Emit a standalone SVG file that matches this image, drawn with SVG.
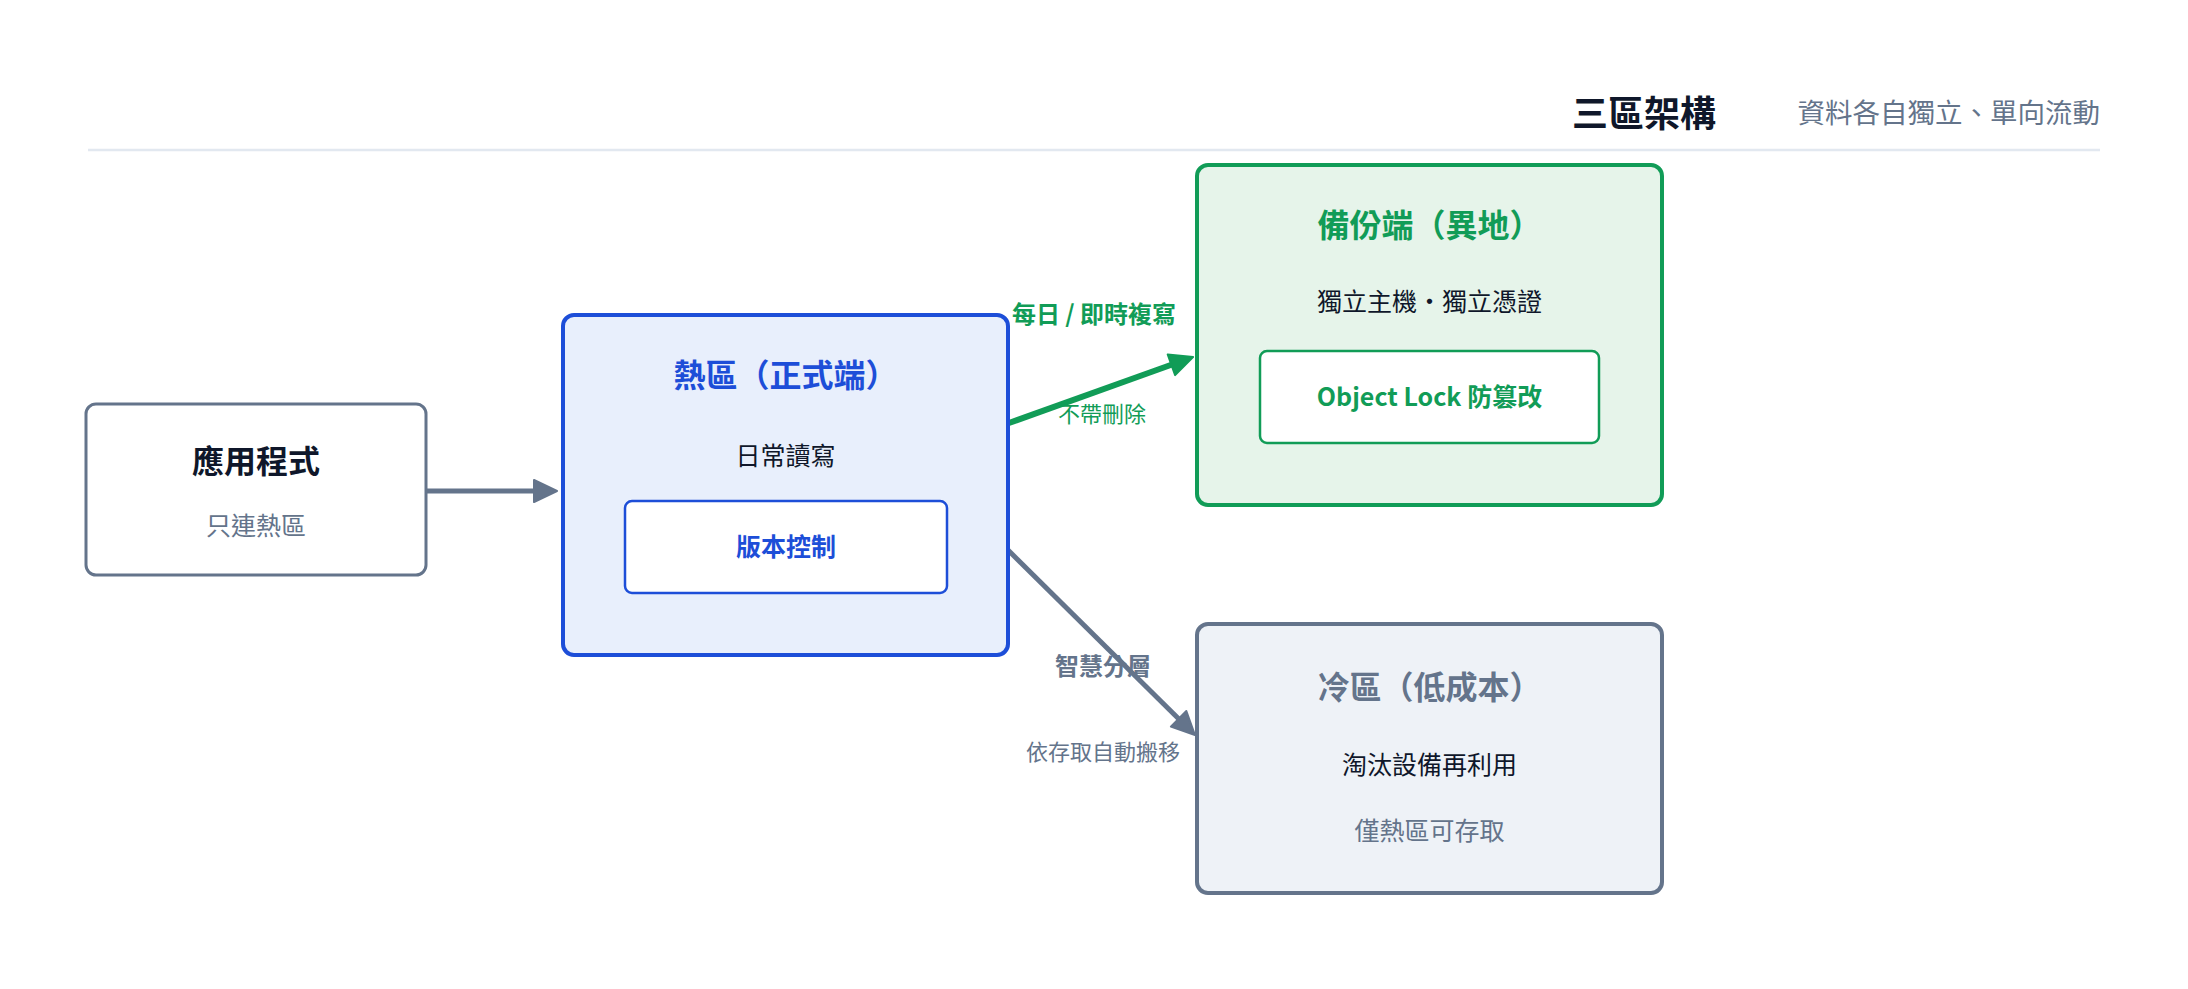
<svg xmlns="http://www.w3.org/2000/svg" width="2188" height="989" viewBox="0 0 2188 989">
<defs>
<style>
text{font-family:"Noto Sans CJK TC","Noto Sans",sans-serif;}
.b{font-weight:700;}
.mid{text-anchor:middle;}
.dark{fill:#0f172a;}
.gray{fill:#64748b;}
.blue{fill:#1d4ed8;}
.green{fill:#119c57;}
.t32{font-size:32px;}
.t25{font-size:25px;}
.t24{font-size:24px;}
.t22{font-size:22px;}
</style>
<marker id="ahGray" markerUnits="userSpaceOnUse" markerWidth="30" markerHeight="30" viewBox="-3 -14 30 28" refX="0" refY="0" orient="auto">
<path d="M0,-11 L23,0 L0,11 Z" fill="#64748b" stroke="#64748b" stroke-width="2" stroke-linejoin="round"/>
</marker>
<marker id="ahGreen" markerUnits="userSpaceOnUse" markerWidth="30" markerHeight="30" viewBox="-3 -14 30 28" refX="0" refY="0" orient="auto">
<path d="M0,-11 L23,0 L0,11 Z" fill="#119c57" stroke="#119c57" stroke-width="2" stroke-linejoin="round"/>
</marker>
</defs>
<rect width="2188" height="989" fill="#ffffff"/>

<g id="header">
<text x="1572" y="127" class="b dark" font-size="36">三區架構</text>
<text x="2100" y="123" class="gray" font-size="27.5" text-anchor="end">資料各自獨立、單向流動</text>
<line x1="88" y1="150" x2="2100" y2="150" stroke="#e2e8f0" stroke-width="2.5"/>
</g>

<g id="connectors">
<line x1="426" y1="491" x2="534" y2="491" stroke="#64748b" stroke-width="5" marker-end="url(#ahGray)"/>
<line x1="1009" y1="423" x2="1171.4" y2="364.8" stroke="#119c57" stroke-width="6" marker-end="url(#ahGreen)"/>
<line x1="1008" y1="550" x2="1178.6" y2="718.8" stroke="#64748b" stroke-width="5" marker-end="url(#ahGray)"/>
<text x="1094" y="323" class="b green t24 mid">每日 / 即時複寫</text>
<text x="1102" y="422" class="green t22 mid">不帶刪除</text>
<text x="1103" y="675" class="b gray t24 mid">智慧分層</text>
<text x="1103" y="760" class="gray t22 mid">依存取自動搬移</text>
</g>

<g id="app">
<rect x="86" y="404" width="340" height="171" rx="10" fill="#ffffff" stroke="#64748b" stroke-width="3"/>
<text x="256" y="473" class="b dark t32 mid">應用程式</text>
<text x="256" y="535" class="gray t25 mid">只連熱區</text>
</g>

<g id="hot">
<rect x="563" y="315" width="445" height="340" rx="11" fill="#e8effc" stroke="#1d4ed8" stroke-width="4"/>
<text x="785.5" y="387" class="b blue t32 mid">熱區（正式端）</text>
<text x="785.5" y="465" class="dark t25 mid">日常讀寫</text>
<g id="hot-version">
<rect x="625" y="501" width="322" height="92" rx="7" fill="#ffffff" stroke="#1d4ed8" stroke-width="2.5"/>
<text x="786" y="556" class="b blue t25 mid">版本控制</text>
</g>
</g>

<g id="backup">
<rect x="1197" y="165" width="465" height="340" rx="11" fill="#e6f4ea" stroke="#119c57" stroke-width="4"/>
<text x="1429.5" y="237" class="b green t32 mid">備份端（異地）</text>
<text x="1429.5" y="311" class="dark t25 mid">獨立主機・獨立憑證</text>
<g id="backup-lock">
<rect x="1260" y="351" width="339" height="92" rx="7" fill="#ffffff" stroke="#119c57" stroke-width="2.5"/>
<text x="1429.5" y="406" class="b green t25 mid">Object Lock 防篡改</text>
</g>
</g>

<g id="cold">
<rect x="1197" y="624" width="465" height="269" rx="11" fill="#eef2f7" stroke="#64748b" stroke-width="4"/>
<text x="1429.5" y="699" class="b gray t32 mid">冷區（低成本）</text>
<text x="1429.5" y="774" class="dark t25 mid">淘汰設備再利用</text>
<text x="1429.5" y="840" class="gray t25 mid">僅熱區可存取</text>
</g>
</svg>
